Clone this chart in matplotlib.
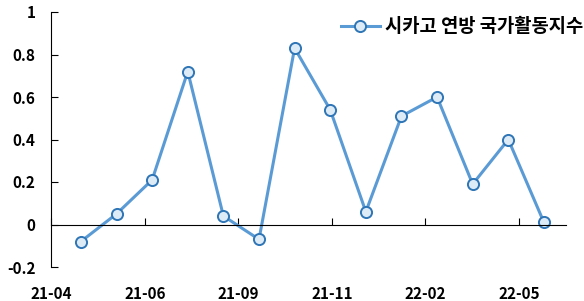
import numpy as np
import matplotlib
matplotlib.use("Agg")
import matplotlib.pyplot as plt

# data
values = [-0.08, 0.05, 0.21, 0.72, 0.04, -0.07, 0.83, 0.54, 0.06, 0.51, 0.60, 0.19, 0.40, 0.01]
tick_labels = ["21-04", "21-06", "21-09", "21-11", "22-02", "22-05"]
tick_pos = [-0.84, 1.80, 4.41, 7.05, 9.66, 12.30]
y_ticks = [-0.2, 0, 0.2, 0.4, 0.6, 0.8, 1]
series_name = "시카고 연방 국가활동지수"

plt.rcParams['font.family'] = ['Noto Sans CJK KR', 'DejaVu Sans']
plt.rcParams['font.weight'] = 'bold'

fig = plt.figure(figsize=(5.84, 3.01), dpi=100)
ax = fig.add_axes([51/584, 1-267/301, (566-51)/584, (267-12)/301])

x = np.arange(len(values))
ax.plot(x, values, color='#5B9BD5', lw=2.2, marker='o', ms=8,
        mfc='#DDEBF7', mec='#2E75B6', mew=1.4, label=series_name)

ax.set_xlim(-0.84, 13.62)
ax.set_ylim(-0.2, 1)
ax.set_yticks(y_ticks)
ax.set_yticklabels(['%g' % v for v in y_ticks])
ax.set_xticks(tick_pos)
ax.set_xticklabels(tick_labels)

for s in ['top', 'right']:
    ax.spines[s].set_visible(False)
ax.spines['bottom'].set_position(('data', 0))
ax.spines['bottom'].set_color('black')
ax.spines['left'].set_color('black')

ax.tick_params(axis='y', direction='in', length=5, labelsize=11, pad=11, colors='black')
ax.tick_params(axis='x', direction='in', length=5, labelsize=11, pad=44, colors='black')

ax.legend(loc='center right', bbox_to_anchor=(583/584, 1-27/301),
          bbox_transform=fig.transFigure, frameon=False, fontsize=13.5,
          handlelength=2.1, handletextpad=0.25, borderpad=0, borderaxespad=0)

fig.savefig('out.png', dpi=100)
